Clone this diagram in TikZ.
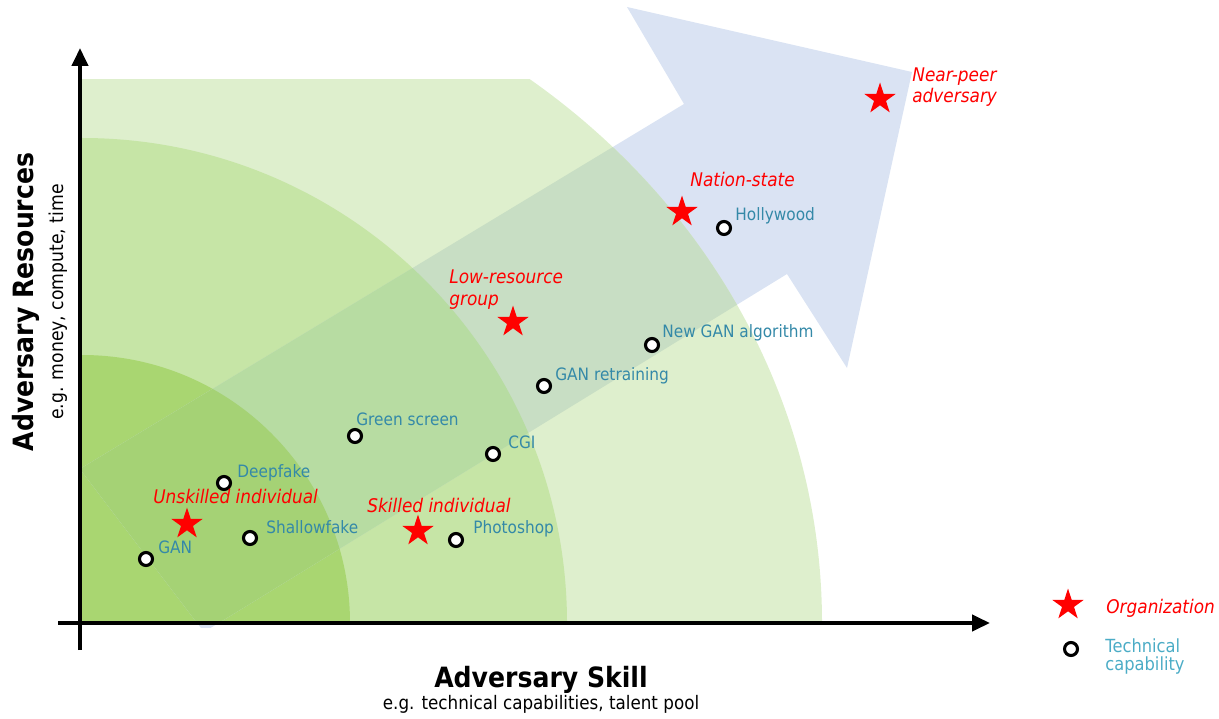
\documentclass[tikz,border=0pt]{standalone}
\usepackage{fontspec}
\setmainfont{DejaVu Sans}[FakeStretch=0.9]
\usetikzlibrary{shapes.geometric,arrows.meta}
\definecolor{gOuter}{HTML}{DEEFCD}
\definecolor{gMid}{HTML}{C6E5A6}
\definecolor{gIn}{HTML}{A9D671}
\definecolor{arrowBlue}{HTML}{DAE3F3}
\definecolor{ovOuter}{HTML}{C8DEC4}
\definecolor{ovMid}{HTML}{B7DCA2}
\definecolor{ovIn}{HTML}{A5D275}
\definecolor{capBlue}{HTML}{3489A8}
\definecolor{legBlue}{HTML}{4BACC6}
\newcommand\arrowshape{(80,469) -- (684,104) -- (627,7) -- (912,72) -- (847,368) -- (787,274) -- (204,632) -- cycle}
\begin{document}
\begin{tikzpicture}[x=0.02cm, y=-0.02cm,
  org/.style={star, star points=5, star point ratio=2.618, fill=red, draw=none, minimum size=0.66cm, inner sep=0pt},
  tech/.style={circle, draw=black, fill=white, line width=1.75pt, minimum size=0.26cm, inner sep=0pt},
  orglabel/.style={text=red, font=\fontsize{10.7}{12.2}\selectfont\itshape, anchor=base west, inner sep=0pt},
  techlabel/.style={text=capBlue, font=\fontsize{9.7}{11.5}\selectfont, anchor=base west, inner sep=0pt},
  leglabel/.style={text=legBlue, font=\fontsize{10.3}{11.5}\selectfont, anchor=base west, inner sep=0pt},
  axisline/.style={line width=2.3pt, -{Triangle[length=0.36cm, width=0.32cm]}},
  title/.style={font=\fontsize{15.9}{18}\selectfont\bfseries, anchor=base, inner sep=0pt},
  subtitle/.style={font=\fontsize{10.6}{12}\selectfont, anchor=base, inner sep=0pt}]
\useasboundingbox (0,0) rectangle (1219,719);

% arrow (background)
\begin{scope}
  \clip (82,0) rectangle (1219,627);
  \fill[arrowBlue] \arrowshape;
\end{scope}

% green zones
\begin{scope}
  \clip (82,80) rectangle (1219,623);
  \fill[gOuter] (82,623) ellipse [x radius=740, y radius=683];
  \fill[gMid] (82,623) circle [radius=485];
  \fill[gIn] (82,623) circle [radius=268];
\end{scope}

% overlap of arrow and zones
\begin{scope}
  \clip \arrowshape;
  \clip (82,80) rectangle (1219,623);
  \fill[ovOuter] (82,623) ellipse [x radius=740, y radius=683];
  \fill[ovMid] (82,623) circle [radius=485];
  \fill[ovIn] (82,623) circle [radius=268];
\end{scope}

% axes
\coordinate (xs) at (58,623);
\coordinate (xe) at (990,623);
\coordinate (ys) at (80,650);
\coordinate (ye) at (80,48);
\draw[axisline] (xs) -- (xe);
\draw[axisline] (ys) -- (ye);

% axis titles
\node[title, rotate=90] (ytitle) at (33,302) {Adversary Resources};
\node[subtitle, rotate=90, font=\fontsize{10.9}{12}\selectfont] (ysub) at (63,302) {e.g. money, compute, time};
\node[title] (xtitle) at (541,687) {Adversary Skill};
\node[subtitle] (xsub) at (541,709) {e.g. technical capabilities, talent pool};

% technical capabilities
\node[tech] (cGAN) at (146,559) {};
\node[techlabel] (tGAN) at (158,553) {GAN};
\node[tech] (cShallow) at (250,538) {};
\node[techlabel] (tShallow) at (266,533) {Shallowfake};
\node[tech] (cDeep) at (224,483) {};
\node[techlabel] (tDeep) at (237,477) {Deepfake};
\node[tech] (cGreen) at (355,436) {};
\node[techlabel] (tGreen) at (356,425) {Green screen};
\node[tech] (cCGI) at (493,454) {};
\node[techlabel] (tCGI) at (508,448) {CGI};
\node[tech] (cPhoto) at (456,540) {};
\node[techlabel] (tPhoto) at (473,533) {Photoshop};
\node[tech] (cRetrain) at (544,386) {};
\node[techlabel] (tRetrain) at (555,380) {GAN retraining};
\node[tech] (cNewGAN) at (652,345) {};
\node[techlabel] (tNewGAN) at (662,337) {New GAN algorithm};
\node[tech] (cHolly) at (724,228) {};
\node[techlabel] (tHolly) at (735,221) {Hollywood};

% organizations
\node[org] (sUnskilled) at (187,524) {};
\node[orglabel] (lUnskilled) at (153,503) {Unskilled individual};
\node[org] (sSkilled) at (418,531) {};
\node[orglabel] (lSkilled) at (367,512) {Skilled individual};
\node[org] (sLow) at (513,322) {};
\node[orglabel] (lLow1) at (449,283) {Low-resource};
\node[orglabel] (lLow2) at (449,305) {group};
\node[org] (sNation) at (682,212) {};
\node[orglabel] (lNation) at (690,187) {Nation-state};
\node[org] (sNear) at (880,99) {};
\node[orglabel] (lNear1) at (912,82) {Near-peer};
\node[orglabel] (lNear2) at (912,103) {adversary};

% legend
\node[org] (legStar) at (1068,605) {};
\node[orglabel] (legOrg) at (1106,613) {Organization};
\node[tech] (legCirc) at (1071,649) {};
\node[leglabel] (legTech1) at (1105,652) {Technical};
\node[leglabel] (legTech2) at (1105,670) {capability};
\end{tikzpicture}
\end{document}
